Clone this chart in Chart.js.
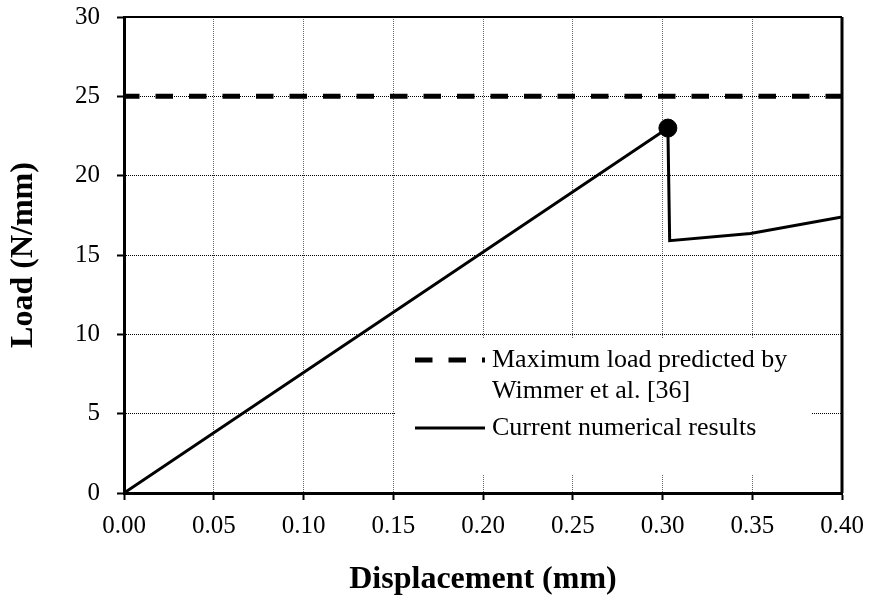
<!DOCTYPE html>
<html>
<head>
<meta charset="utf-8">
<script src="https://cdn.jsdelivr.net/npm/chart.js@4/dist/chart.umd.min.js"></script>
<style>
  html, body { margin: 0; padding: 0; background: #fff; }
  #wrap { width: 871px; height: 601px; }
</style>
</head>
<body>
<div id="wrap"><canvas id="load-chart"></canvas></div>
<script>
'use strict';

// values
var displacement = [0.000, 0.303, 0.304, 0.349, 0.400];
var load = [0.0, 23.0, 15.9, 16.35, 17.4];
var maxLoadX = [0.0, 0.4];
var maxLoadY = [25, 25];
var failureX = [0.303];
var failureY = [23.0];
var yTicks = [0, 5, 10, 15, 20, 25, 30];
var legendLines = [
  ['Maximum load predicted by', 'Wimmer et al. [36]'],
  ['Current numerical results']
];

var FONT = "'Liberation Serif', 'Times New Roman', serif";

function toPoints(xs, ys) {
  return xs.map(function (x, i) { return { x: x, y: ys[i] }; });
}

// frame on top / right and the boxed legend inside the plot
var framePlugin = {
  id: 'frame',
  afterDatasetsDraw: function (chart) {
    var c = chart.ctx, a = chart.chartArea;
    c.save();
    c.strokeStyle = '#000';
    c.lineWidth = 2;
    c.beginPath();
    c.moveTo(a.left, a.top);
    c.lineTo(a.right, a.top);
    c.stroke();
    c.lineWidth = 3;
    c.beginPath();
    c.moveTo(a.right, a.top);
    c.lineTo(a.right, a.bottom);
    c.stroke();

    // legend box
    var bx = a.left + 271, by = a.top + 321, bw = 417, bh = 137;
    c.fillStyle = '#fff';
    c.fillRect(bx, by, bw, bh);
    c.font = '26px ' + FONT;
    c.fillStyle = '#000';
    c.textBaseline = 'middle';
    c.textAlign = 'left';

    var ds = chart.data.datasets;
    var rows = [
      { set: ds[0], y: by + 22, lines: legendLines[0] },
      { set: ds[1], y: by + 90, lines: legendLines[1] }
    ];
    rows.forEach(function (r) {
      c.strokeStyle = r.set.borderColor;
      c.lineWidth = r.set.borderWidth;
      c.setLineDash(r.set.borderDash || []);
      c.beginPath();
      c.moveTo(bx + 20, r.y);
      c.lineTo(bx + 90, r.y);
      c.stroke();
      c.setLineDash([]);
      r.lines.forEach(function (t, i) {
        c.fillText(t, bx + 97, r.y + i * 31);
      });
    });
    c.restore();
  }
};

var ctx = document.getElementById('load-chart').getContext('2d');
new Chart(ctx, {
  type: 'scatter',
  data: {
    datasets: [
      {
        label: 'Maximum load predicted by Wimmer et al. [36]',
        data: toPoints(maxLoadX, maxLoadY),
        showLine: true,
        borderColor: '#000',
        borderWidth: 5,
        borderDash: [17.5, 16],
        borderDashOffset: 2,
        pointRadius: 0
      },
      {
        label: 'Current numerical results',
        data: toPoints(displacement, load),
        showLine: true,
        borderColor: '#000',
        borderWidth: 3,
        pointRadius: 0
      },
      {
        label: 'Failure',
        data: toPoints(failureX, failureY),
        showLine: false,
        backgroundColor: '#000',
        borderColor: '#000',
        pointRadius: 9
      }
    ]
  },
  plugins: [framePlugin],
  options: {
    responsive: true,
    maintainAspectRatio: false,
    animation: false,
    layout: {
      padding: { top: 17, right: 29, left: 0, bottom: 0 }
    },
    plugins: {
      legend: { display: false },
      tooltip: { enabled: false }
    },
    scales: {
      x: {
        type: 'linear',
        min: 0,
        max: 0.4,
        afterFit: function (scale) {
          scale.height = 108;
          scale.paddingLeft = 0;
          scale.paddingRight = 0;
        },
        ticks: {
          stepSize: 0.05,
          color: '#000',
          padding: 11,
          font: { family: FONT, size: 25 },
          callback: function (v) { return v.toFixed(2); }
        },
        grid: {
          color: '#666',
          lineWidth: 1,
          tickLength: 7,
          tickColor: '#000',
          tickWidth: 2
        },
        border: { color: '#000', width: 3, dash: [1, 1] },
        title: {
          display: true,
          text: 'Displacement (mm)',
          color: '#000',
          padding: { top: 0, bottom: 2 },
          font: { family: FONT, size: 32, weight: 'bold' }
        }
      },
      y: {
        min: 0,
        max: 30,
        afterFit: function (scale) {
          scale.width = 124;
          scale.paddingTop = 0;
          scale.paddingBottom = 0;
        },
        afterBuildTicks: function (scale) {
          scale.ticks = yTicks.map(function (v) { return { value: v }; });
        },
        ticks: {
          color: '#000',
          padding: 17,
          font: { family: FONT, size: 25 }
        },
        grid: {
          color: '#000',
          lineWidth: 1,
          tickLength: 7,
          tickColor: '#000',
          tickWidth: 2
        },
        border: { color: '#000', width: 3, dash: [1, 1] },
        title: {
          display: true,
          text: 'Load (N/mm)',
          color: '#000',
          padding: { top: 5, bottom: 0 },
          font: { family: FONT, size: 32, weight: 'bold' }
        }
      }
    }
  }
});
</script>
</body>
</html>
